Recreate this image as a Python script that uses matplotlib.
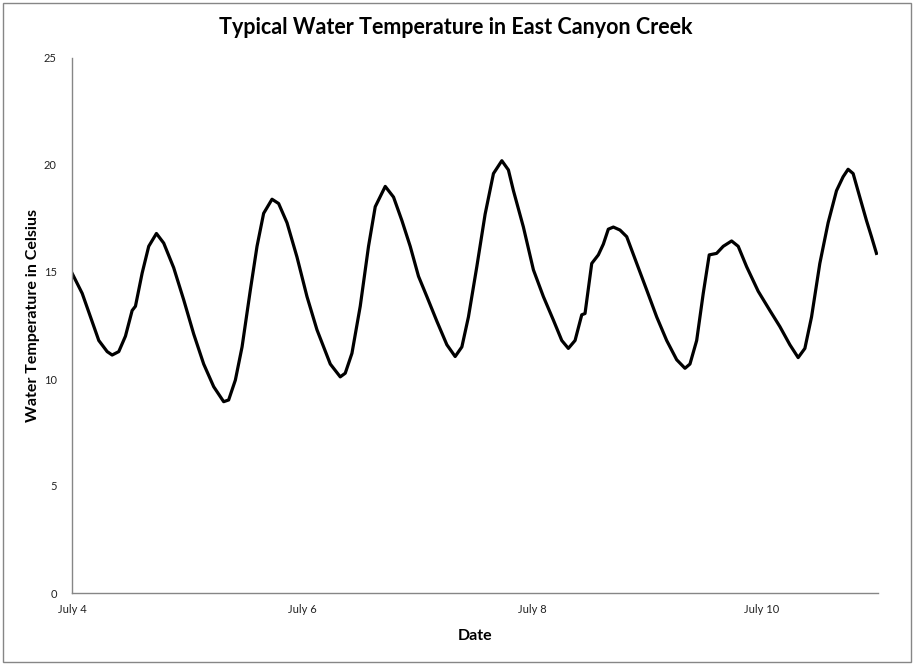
import matplotlib
matplotlib.use("Agg")
import matplotlib.pyplot as plt
from matplotlib.patches import Rectangle

# hours since July 4 00:00
hours = [0.0, 2.13, 3.86, 5.59, 7.34, 8.38, 9.76, 11.15, 12.55, 13.24, 14.64, 16.01,
         17.62, 19.14, 21.22, 23.31, 25.40, 27.48, 29.57, 31.65, 32.69, 34.09, 35.49,
         37.22, 38.61, 39.99, 41.74, 43.12, 44.87, 46.95, 49.04, 51.12, 53.90, 55.98,
         57.02, 58.42, 60.15, 61.88, 63.28, 65.37, 67.10, 68.85, 70.58, 72.31, 74.06,
         76.14, 78.23, 79.96, 81.36, 82.73, 84.48, 86.21, 87.95, 89.70, 91.07, 92.12,
         94.20, 96.29, 98.37, 100.46, 102.21, 103.58, 104.98, 106.38, 107.06, 108.46,
         109.84, 110.88, 111.92, 112.97, 114.36, 115.76, 117.85, 119.93, 122.02, 124.10,
         126.19, 127.92, 128.96, 130.36, 131.73, 132.98, 134.52, 135.90, 137.65, 139.03,
         140.78, 143.20, 145.64, 147.72, 149.81, 151.54, 152.94, 154.33, 156.06, 157.79,
         159.54, 160.92, 161.96, 163.01, 164.40, 165.80, 166.84, 167.88]
temps = [14.95, 14.0, 12.9, 11.8, 11.28, 11.12, 11.28, 12.0, 13.2, 13.4, 14.95, 16.2,
         16.8, 16.35, 15.2, 13.7, 12.1, 10.7, 9.64, 8.94, 9.02, 9.95, 11.5,
         14.16, 16.2, 17.74, 18.4, 18.2, 17.3, 15.7, 13.85, 12.3, 10.7, 10.1,
         10.27, 11.2, 13.4, 16.2, 18.05, 19.0, 18.5, 17.4, 16.2, 14.8, 13.85,
         12.7, 11.6, 11.05, 11.5, 12.9, 15.25, 17.7, 19.6, 20.2, 19.77, 18.8,
         17.1, 15.1, 13.85, 12.75, 11.8, 11.43, 11.8, 13.0, 13.06, 15.4,
         15.8, 16.3, 17.0, 17.1, 16.96, 16.65, 15.4, 14.16, 12.9, 11.8,
         10.9, 10.5, 10.7, 11.8, 14.0, 15.8, 15.87, 16.2, 16.45, 16.2,
         15.25, 14.1, 13.2, 12.45, 11.6, 11.0, 11.43, 12.9, 15.4, 17.3,
         18.8, 19.45, 19.8, 19.6, 18.5, 17.4, 16.65, 15.87]

x_ticks = [0, 48, 96, 144]
x_tick_labels = ["July 4", "July 6", "July 8", "July 10"]
y_ticks = [0, 5, 10, 15, 20, 25]

plt.rcParams['font.family'] = ['Lato', 'DejaVu Sans']

fig = plt.figure(figsize=(9.14, 6.65), dpi=100)
ax = fig.add_axes([72/914, 72/665, (878-72)/914, (593-58)/665])

ax.plot(hours, temps, color='black', linewidth=2.3, solid_joinstyle='round')

ax.set_xlim(0, 168.2)
ax.set_ylim(0, 25)
ax.set_xticks(x_ticks)
ax.set_xticklabels(x_tick_labels)
ax.set_yticks(y_ticks)
ax.tick_params(axis='both', length=0, labelsize=8, colors='#222222')
ax.tick_params(axis='y', pad=11)
ax.tick_params(axis='x', pad=8)

for s in ['top', 'right']:
    ax.spines[s].set_visible(False)
for s in ['left', 'bottom']:
    ax.spines[s].set_color('#868686')
    ax.spines[s].set_linewidth(1.0)

ax.set_xlabel("Date", fontsize=11.5, fontweight='bold', labelpad=10)
ax.set_ylabel("Water Temperature in Celsius", fontsize=11.5, fontweight='bold', va='center')
ax.yaxis.set_label_coords(-(72 - 33)/806, (593 - 316)/535)

fig.text(456/914, 1 - 28/665, "Typical Water Temperature in East Canyon Creek",
         ha='center', va='center', fontsize=15.5, fontweight='bold')

fig.patches.append(Rectangle((2.5/914, 3/665), 908/914, 659/665, transform=fig.transFigure,
                             fill=False, edgecolor='#868686', linewidth=1.0))

fig.savefig("out.png", dpi=100)
